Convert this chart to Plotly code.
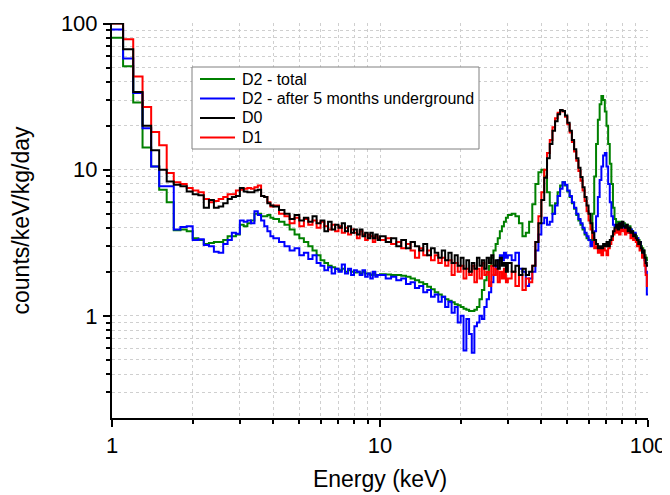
import numpy as np
import plotly.graph_objects as go

# ---- bin left edges (keV) ----
E_SEG1 = np.round(np.arange(1.0, 4.0 - 1e-9, 0.1), 2)     # 1.0 .. 3.9
E_SEG2 = np.round(np.arange(4.0, 10.0 - 1e-9, 0.2), 2)    # 4.0 .. 9.8
E_SEG3 = np.round(np.arange(10.0, 30.0 - 1e-9, 0.5), 2)   # 10 .. 29.5
E_SEG4 = np.round(np.arange(30.0, 100.0 - 1e-9, 1.0), 2)  # 30 .. 99
E_END = 100.0

# ---- D0 (black) ----
D0_S1 = [100, 66.7, 34, 20, 13.6, 10.0, 8.3, 7.9, 7.7, 7.1, 6.8, 6.7, 5.5, 6.2, 5.5,
         5.6, 5.9, 6.3, 6.5, 6.6, 7.5, 7.1, 7.0, 7.0, 7.2, 7.3, 6.6, 6.5, 5.9, 5.7]
D0_S2 = [5.6, 5.3, 5.0, 4.6, 4.9, 4.5, 4.7, 4.4, 4.8, 4.3, 4.5, 3.8, 4.4, 3.9, 4.2,
         4.0, 4.3, 3.8, 4.1, 3.7, 3.9, 3.6, 3.9, 3.5, 3.7, 3.4, 3.7, 3.4, 3.6, 3.3]
D0_S3 = [3.5, 3.2, 3.4, 3.0, 3.3, 2.9, 3.2, 3.0, 2.8, 3.1, 2.6, 2.9, 2.7, 2.5, 2.8,
         2.4, 2.7, 2.3, 2.6, 2.2, 2.5, 2.1, 2.4, 2.0, 2.3, 2.1, 2.5, 2.2, 2.4, 2.1,
         2.5, 2.3, 2.6, 2.2, 2.4, 2.1, 2.5, 2.2, 2.3, 2.0]
D0_S4 = [2.3, 2.0, 2.2, 1.9, 2.1, 1.9, 2.0, 2.2,
         3.2, 4.3, 6.2, 8.8, 12, 15, 18.5, 21.5, 24, 25.6,
         25.2, 23.5, 21, 18.5, 16, 13.8, 12, 10.3, 8.9, 7.6,
         6.5, 5.7, 5.0, 4.3, 3.7, 3.3, 3.1, 2.9, 3.0, 2.9,
         3.1, 3.0, 3.2, 3.0, 3.3, 3.5, 3.8, 4.0, 4.2, 3.9,
         4.3, 4.0, 4.4, 4.1, 4.0, 4.2, 3.8, 4.0, 3.7, 3.8,
         3.5, 3.6, 3.4, 3.3, 3.1, 3.2, 2.9, 2.7, 2.8, 2.5,
         2.3, 2.2]

# ---- D1 (red) ----
D1_S1 = [100, 78, 43.4, 26.9, 18.1, 14.7, 9.5, 8.2, 8.0, 7.5, 7.2, 7.0, 6.3, 6.0, 6.1,
         6.3, 6.5, 6.8, 6.8, 7.2, 7.3, 7.4, 7.5, 7.4, 7.6, 7.8, 6.6, 6.5, 6.0, 5.6]
D1_S2 = [5.7, 5.0, 4.8, 4.3, 4.7, 4.1, 4.6, 4.2, 4.5, 4.0, 4.4, 4.1, 3.9, 4.2, 3.8,
         4.1, 3.7, 4.0, 3.6, 3.9, 3.7, 3.4, 3.8, 3.6, 3.3, 3.6, 3.5, 3.2, 3.5, 3.4]
D1_S3 = [3.3, 3.4, 3.1, 3.2, 2.9, 3.1, 2.8, 2.5, 2.9, 2.6, 2.8, 2.4, 2.6, 2.3, 2.5,
         2.2, 2.4, 1.9, 2.3, 2.0, 2.2, 1.8, 2.1, 1.9, 2.2, 1.7, 2.1, 1.8, 2.3, 1.9,
         2.0, 1.6, 2.2, 1.9, 2.1, 1.7, 2.0, 1.8, 2.1, 1.7]
D1_S4 = [1.8, 2.0, 1.6, 1.9, 1.5, 1.8, 1.7, 2.2,
         3.2, 4.8, 7.0, 10, 13, 16, 19.5, 22.5, 24.5, 25.5,
         25, 23, 20.5, 18, 15.5, 13.3, 11.5, 9.8, 8.4, 7.2,
         6.1, 5.2, 4.5, 3.9, 3.4, 2.9, 3.0, 2.7, 2.9, 2.6,
         2.9, 2.8, 2.6, 2.9, 3.1, 3.3, 3.6, 3.9, 3.7, 4.0,
         3.6, 4.1, 3.8, 3.9, 3.6, 4.0, 3.7, 3.8, 3.4, 3.6,
         3.3, 3.4, 3.2, 3.0, 3.1, 2.8, 2.9, 2.5, 2.6, 2.2,
         1.9, 1.6]

# ---- D2 after 5 months underground (blue) ----
D2U_S1 = [91, 57.6, 33.5, 19.2, 10.5, 7.7, 7.7, 3.9, 4.05, 4.1, 3.3, 3.35, 3.05, 3.0, 2.75,
          2.7, 3.1, 3.3, 3.7, 3.65, 4.5, 4.4, 4.5, 4.3, 5.2, 4.9, 4.5, 4.1, 3.8, 3.5]
D2U_S2 = [3.4, 3.2, 3.0, 2.8, 2.9, 2.6, 2.7, 2.45, 2.6, 2.3, 2.2, 2.05, 2.15, 1.95, 2.1,
          2.0, 2.25, 1.95, 2.1, 1.9, 2.05, 2.0, 1.9, 2.05, 1.85, 1.95, 1.8, 2.0, 1.85, 1.9]
D2U_S3 = [1.9, 1.8, 1.85, 1.75, 1.8, 1.65, 1.7, 1.55, 1.6, 1.45, 1.5, 1.35, 1.4, 1.25, 1.35,
          1.15, 1.25, 1.05, 1.15, 0.9, 1.0, 0.58, 0.95, 0.75, 0.56, 0.85, 0.9, 1.0, 0.95, 1.15,
          1.3, 1.45, 1.7, 1.9, 2.2, 2.4, 2.6, 2.4, 2.7, 2.5]
D2U_S4 = [2.6, 2.4, 2.7, 2.1, 2.0, 1.6, 1.8, 2.0,
          2.8, 3.6, 4.3, 4.7, 4.2, 4.4, 5.0, 5.7, 6.6, 7.4,
          8.2, 7.9, 7.2, 6.6, 6.0, 5.5, 5.0, 4.6, 4.3, 4.0,
          3.7, 3.5, 3.3, 3.0, 3.2, 3.8, 4.8, 6.5, 8.5, 10.5,
          12.5, 13.0, 10.5, 8.0, 6.0, 4.8, 4.2, 4.1, 4.2, 4.0,
          4.3, 3.9, 4.2, 4.0, 4.1, 3.8, 4.0, 3.7, 3.9, 3.6,
          3.5, 3.7, 3.3, 3.4, 3.1, 3.2, 2.9, 2.8, 2.6, 2.4,
          2.0, 1.4]

# ---- D2 total (green) ----
D2T_S1 = [80, 51, 28.8, 14.2, 10.5, 7.3, 6.0, 3.85, 3.9, 3.8, 3.4, 3.3, 3.1, 3.15, 3.2,
          3.2, 3.3, 3.5, 3.5, 3.6, 4.2, 4.1, 4.3, 4.5, 5.0, 5.0, 4.8, 4.8, 4.9, 4.7]
D2T_S2 = [4.6, 4.4, 4.2, 3.9, 3.6, 3.4, 3.2, 3.0, 2.8, 2.6, 2.4, 2.3, 2.2, 2.15, 2.1,
          2.05, 2.1, 2.0, 2.05, 2.0, 1.98, 2.0, 1.95, 2.0, 1.95, 1.95, 1.9, 1.95, 1.9, 1.9]
D2T_S3 = [1.93, 1.92, 1.9, 1.9, 1.88, 1.85, 1.8, 1.75, 1.7, 1.65, 1.58, 1.52, 1.45, 1.4, 1.35,
          1.3, 1.27, 1.24, 1.2, 1.18, 1.15, 1.12, 1.1, 1.08, 1.08, 1.1, 1.15, 1.3, 1.5, 1.75,
          2.0, 2.2, 2.5, 2.8, 3.1, 3.4, 3.8, 4.1, 4.4, 4.7]
D2T_S4 = [4.9, 5.0, 4.8, 4.3, 3.5, 3.7, 4.4, 5.8,
          8.0, 9.6, 10.0, 9.0, 7.0, 5.7, 5.0, 5.9, 7.0, 7.8,
          8.2, 7.8, 7.1, 6.5, 5.9, 5.4, 4.9, 4.5, 4.2, 3.9,
          3.6, 3.4, 3.3, 3.3, 5.0, 9.0, 15, 22, 28, 32,
          30, 25, 20, 15, 11, 8.0, 5.5, 4.6, 4.3, 4.4,
          4.3, 4.4, 4.2, 4.3, 4.1, 4.2, 4.0, 4.1, 3.9, 3.8,
          3.7, 3.6, 3.5, 3.4, 3.3, 3.2, 3.0, 2.9, 2.8, 2.6,
          2.5, 2.4]

LABELS = ["D2 - total", "D2 - after 5 months underground", "D0", "D1"]
COLORS = ["#008000", "#0000ff", "#000000", "#ff0000"]

edges = np.concatenate([E_SEG1, E_SEG2, E_SEG3, E_SEG4, [E_END]])


def steps(*segs):
    v = list(segs[0]) + list(segs[1]) + list(segs[2]) + list(segs[3])
    return v + [v[-1]]


series = {
    "D2 - total": steps(D2T_S1, D2T_S2, D2T_S3, D2T_S4),
    "D2 - after 5 months underground": steps(D2U_S1, D2U_S2, D2U_S3, D2U_S4),
    "D0": steps(D0_S1, D0_S2, D0_S3, D0_S4),
    "D1": steps(D1_S1, D1_S2, D1_S3, D1_S4),
}

fig = go.Figure()
draw_order = ["D2 - total", "D2 - after 5 months underground", "D1", "D0"]
for name in draw_order:
    i = LABELS.index(name)
    fig.add_trace(go.Scatter(
        x=edges, y=series[name], mode="lines", name=name,
        line=dict(color=COLORS[i], width=2, shape="hv"),
        showlegend=False,
    ))

font = "Liberation Sans, Arial, sans-serif"

# page body has an 8px margin: figure origin sits at (8, 8) in the window
OFF = 8
FIG_W, FIG_H = 662, 487
L, T = 112 - OFF, 23 - OFF
R = OFF + FIG_W - 648
B = OFF + FIG_H - 418
W_PLOT, H_PLOT = FIG_W - L - R, FIG_H - T - B

# ---- hand-built legend box (positions given in window pixels) ----
px = lambda p: (p - OFF - L) / W_PLOT
py = lambda p: 1 - (p - OFF - T) / H_PLOT
shapes = [dict(type="rect", xref="paper", yref="paper",
               x0=px(192), x1=px(479), y0=py(149), y1=py(67),
               line=dict(color="#808080", width=1), fillcolor="white", layer="above")]
annotations = []
row_y = [79, 98.5, 118, 137.5]
for i, lab in enumerate(LABELS):
    shapes.append(dict(type="line", xref="paper", yref="paper",
                       x0=px(200), x1=px(235), y0=py(row_y[i]), y1=py(row_y[i]),
                       line=dict(color=COLORS[i], width=2), layer="above"))
    annotations.append(dict(xref="paper", yref="paper", x=px(240), y=py(row_y[i]),
                            xanchor="left", yanchor="middle", text=lab, showarrow=False,
                            font=dict(size=16, family=font, color="black")))

grid = "#cfcfcf"
x_minor = [2, 3, 4, 5, 6, 7, 8, 9, 20, 30, 40, 50, 60, 70, 80, 90]
y_minor = [0.3, 0.4, 0.5, 0.6, 0.7, 0.8, 0.9, 2, 3, 4, 5, 6, 7, 8, 9,
           20, 30, 40, 50, 60, 70, 80, 90]

fig.update_layout(
    width=FIG_W, height=FIG_H,
    margin=dict(l=L, r=R, t=T, b=B),
    paper_bgcolor="white", plot_bgcolor="white",
    font=dict(family=font, color="black"),
    showlegend=False,
    shapes=shapes, annotations=annotations,
    xaxis=dict(
        type="log", range=[0, 2], automargin=False,
        tickvals=[1, 10, 100], ticktext=["1", "10", "100"],
        ticks="outside", ticklen=7, tickwidth=2, tickcolor="black",
        showline=True, linecolor="black", linewidth=2, mirror=False,
        showgrid=True, gridcolor=grid, gridwidth=1, griddash="dot",
        zeroline=False,
        tickfont=dict(size=22, family=font),
        ticklabelstandoff=0,
        minor=dict(tickvals=x_minor, ticks="outside", ticklen=4, tickwidth=1.5,
                   tickcolor="black", showgrid=True, gridcolor=grid,
                   gridwidth=1, griddash="dot"),
        title=dict(text="Energy (keV)", font=dict(size=23, family=font), standoff=13),
    ),
    yaxis=dict(
        type="log", range=[np.log10(0.2), 2.004], automargin=False,
        tickvals=[1, 10, 100], ticktext=["1", "10", "100"],
        ticks="outside", ticklen=7, tickwidth=2, tickcolor="black",
        showline=True, linecolor="black", linewidth=2, mirror=False,
        showgrid=True, gridcolor=grid, gridwidth=1, griddash="dot",
        zeroline=False,
        tickfont=dict(size=22, family=font),
        ticklabelstandoff=1,
        minor=dict(tickvals=y_minor, ticks="outside", ticklen=4, tickwidth=1.5,
                   tickcolor="black", showgrid=True, gridcolor=grid,
                   gridwidth=1, griddash="dot"),
        title=dict(text="counts/keV/kg/day", font=dict(size=23, family=font), standoff=25),
    ),
)

fig.write_html("out.html")
